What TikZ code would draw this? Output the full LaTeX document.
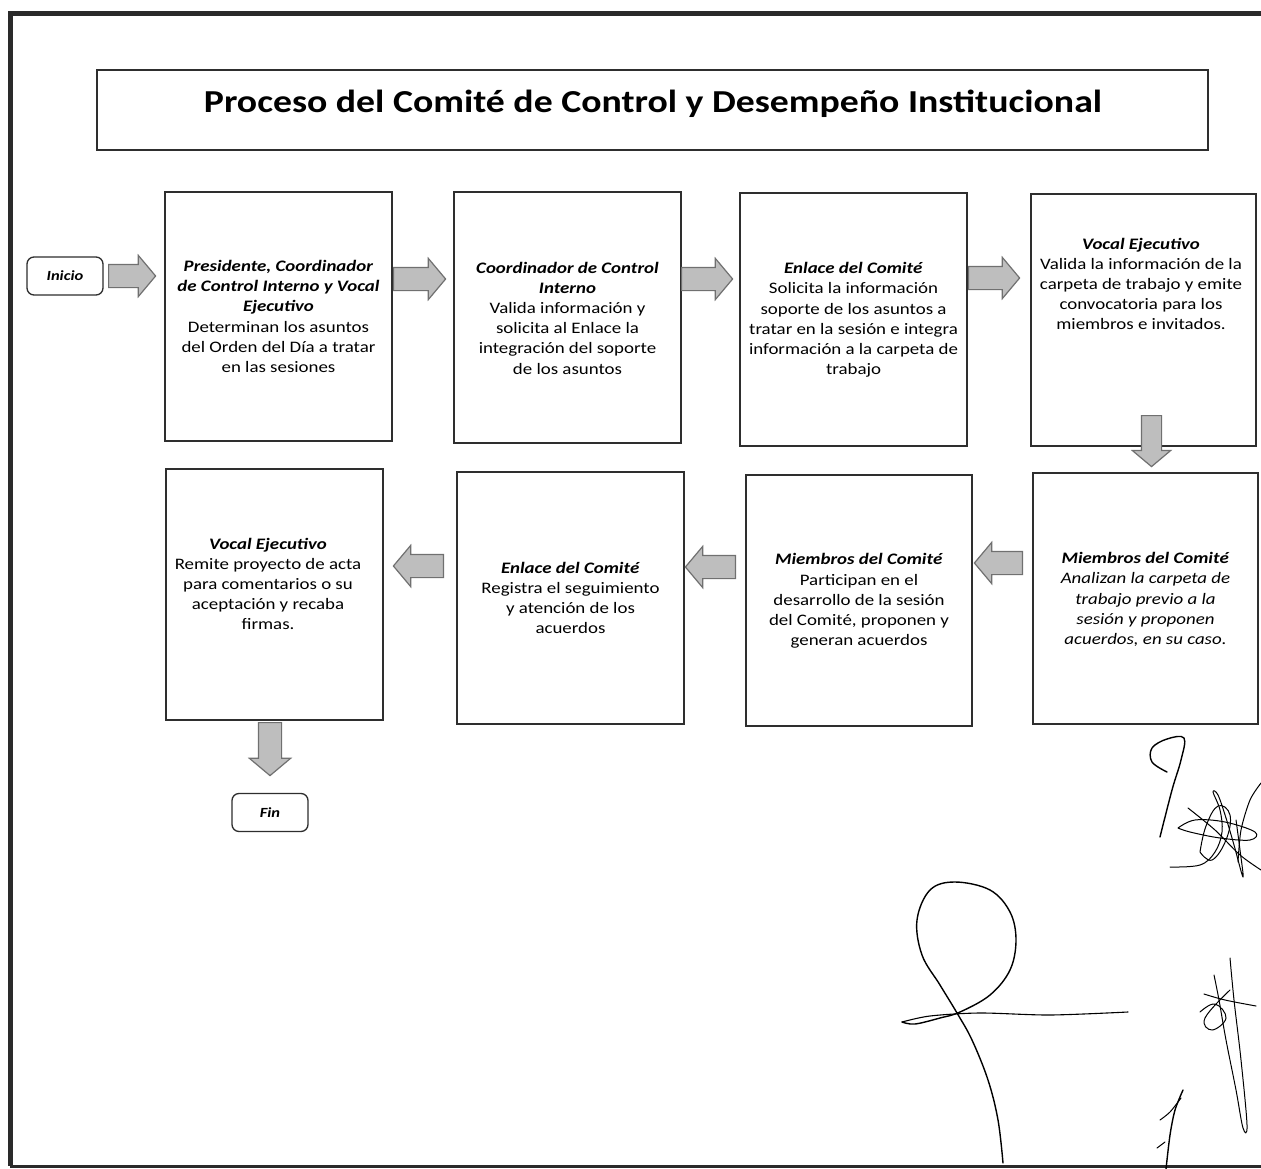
\documentclass[tikz,border=0pt]{standalone}
\usepackage{fontspec}
\setmainfont{Carlito}[FakeStretch=1.18]
\usetikzlibrary{shapes.arrows}
\definecolor{boxline}{HTML}{2E2E2E}
\definecolor{arrfill}{HTML}{BEBEBE}
\definecolor{arrline}{HTML}{707070}
\definecolor{frameline}{HTML}{2A2A2A}
\begin{document}
\begin{tikzpicture}[x=1pt,y=-1pt,
  stepbox/.style={draw=boxline, line width=1.8pt, fill=none, inner sep=0pt},
  txt/.style={align=center, inner sep=0pt, font=\fontsize{16}{20.2}\selectfont},
  term/.style={draw=boxline, line width=1.3pt, rounded corners=7pt, minimum width=76pt, minimum height=38pt, inner sep=0pt, font=\fontsize{14}{16}\selectfont\bfseries\itshape},
  barrow/.style={single arrow, anchor=tail, draw=arrline, fill=arrfill, line width=1.2pt, minimum height=#1, minimum width=0pt, single arrow head extend=9pt, single arrow tip angle=100, inner xsep=0pt, inner ysep=11pt},
  sig/.style={draw=black, line width=1.4pt, line cap=round, line join=round}]
\useasboundingbox (0,0) rectangle (1261,1169);
\fill[white] (0,0) rectangle (1261,1169);
% frame
\draw[frameline, line width=5pt] (1261,14) -- (10,14) -- (10,1166);
\draw[frameline, line width=3pt] (10,1166) -- (1261,1166);
% title
\node[stepbox, minimum width=1111pt, minimum height=80pt] (tbox) at (652.5,110) {};
\node[inner sep=0pt, font=\fontsize{32}{38}\selectfont\bfseries] (title) at (653,104) {Proceso del Comité de Control y Desempeño Institucional};
% boxes row 1
\node[stepbox, minimum width=227pt, minimum height=249pt] (b1) at (278.5,316.5) {};
\node[stepbox, minimum width=227pt, minimum height=251pt] (b2) at (567.5,317.5) {};
\node[stepbox, minimum width=227pt, minimum height=253pt] (b3) at (853.5,319.5) {};
\node[stepbox, minimum width=225pt, minimum height=252pt] (b4) at (1143.5,320) {};
% boxes row 2
\node[stepbox, minimum width=225pt, minimum height=251pt] (b5) at (1145.5,598.5) {};
\node[stepbox, minimum width=226pt, minimum height=251pt] (b6) at (859,600.5) {};
\node[stepbox, minimum width=227pt, minimum height=252pt] (b7) at (570.5,598) {};
\node[stepbox, minimum width=217pt, minimum height=251pt] (b8) at (274.5,594.5) {};
% terminals
\node[term] (inicio) at (65,276) {Inicio};
\node[term] (fin) at (270,812.5) {Fin};
% texts
\node[txt] (t1) at (278.5,316.5) {\textbf{\textit{Presidente, Coordinador}}\\\textbf{\textit{de Control Interno y Vocal}}\\\textbf{\textit{Ejecutivo}}\\Determinan los asuntos\\del Orden del Día a tratar\\en las sesiones};
\node[txt] (t2) at (567.5,318) {\textbf{\textit{Coordinador de Control}}\\\textbf{\textit{Interno}}\\Valida información y\\solicita al Enlace la\\integración del soporte\\de los asuntos};
\node[txt] (t3) at (853.5,320) {\textbf{\textit{Enlace del Comité}}\\Solicita la información\\soporte de los asuntos a\\tratar en la sesión e integra\\información a la carpeta de\\trabajo};
\node[txt] (t4) at (1141,284) {\textbf{\textit{Vocal Ejecutivo}}\\Valida la información de la\\carpeta de trabajo y emite\\convocatoria para los\\miembros e invitados.};
\node[txt] (t5) at (1145.5,599.5) {\textbf{\textit{Miembros del Comité}}\\\textit{Analizan la carpeta de}\\\textit{trabajo previo a la}\\\textit{sesión y proponen}\\\textit{acuerdos, en su caso.}};
\node[txt] (t6) at (859,601) {\textbf{\textit{Miembros del Comité}}\\Participan en el\\desarrollo de la sesión\\del Comité, proponen y\\generan acuerdos};
\node[txt] (t7) at (570.5,598) {\textbf{\textit{Enlace del Comité}}\\Registra el seguimiento\\y atención de los\\acuerdos};
\node[txt] (t8) at (268,584) {\textbf{\textit{Vocal Ejecutivo}}\\Remite proyecto de acta\\para comentarios o su\\aceptación y recaba\\firmas.};
% block arrows
\node[barrow=47pt] (a0) at (108,276) {};
\node[barrow=52pt] (a1) at (393,279) {};
\node[barrow=51pt] (a2) at (681,279) {};
\node[barrow=51pt] (a3) at (968,278) {};
\node[barrow=51pt, rotate=-90, inner ysep=9.5pt] (a4) at (1151.5,415) {};
\node[barrow=48pt, rotate=180] (a5) at (1023,563) {};
\node[barrow=50pt, rotate=180] (a6) at (736,567) {};
\node[barrow=50pt, rotate=180] (a7) at (444,566) {};
\node[barrow=53pt, rotate=-90] (a8) at (270,722) {};
% signatures
\draw[sig] plot[smooth, tension=0.6] coordinates {(1167,772) (1152,762) (1152,748) (1167,739) (1184,738) (1181,760) (1172,790) (1160,837)};
\draw[sig, line width=1pt] plot[smooth, tension=0.6] coordinates {(1178,828) (1195,820) (1225,822) (1255,832) (1250,840) (1220,838) (1190,832) (1178,828)};
\draw[sig, line width=1pt] plot[smooth] coordinates {(1188,808) (1215,830) (1240,855) (1261,870)};
\draw[sig, line width=1pt] plot[smooth, tension=0.6] coordinates {(1170,867) (1200,865) (1215,852) (1222,832) (1220,810) (1213,792) (1218,795) (1226,818) (1234,845) (1243,877) (1240,850) (1236,820)};
\draw[sig, line width=1pt] plot[smooth] coordinates {(1261,783) (1250,800) (1241,830) (1238,862)};
\draw[sig, line width=1pt] plot[smooth, tension=0.7] coordinates {(1200,852) (1212,860) (1226,840) (1230,815) (1218,806) (1206,826) (1200,852)};
\draw[sig] plot[smooth, tension=0.6] coordinates {(902,1022) (915,1024) (940,1018) (960,1012) (990,995) (1010,970) (1016,940) (1010,912) (990,890) (955,882) (930,890) (917,920) (922,955) (940,985) (957,1013) (972,1040) (988,1080) (998,1120) (1003,1163)};
\draw[sig, line width=1.1pt] plot[smooth] coordinates {(902,1022) (930,1016) (980,1013) (1050,1015) (1128,1012)};
\draw[sig, line width=1pt] plot[smooth, tension=0.6] coordinates {(1230,958) (1234,1000) (1241,1060) (1247,1125) (1243,1128) (1236,1090) (1226,1040) (1219,1000) (1214,975)};
\draw[sig, line width=1pt] plot[smooth, tension=0.6] coordinates {(1204,994) (1225,1000) (1256,1006)};
\draw[sig, line width=1pt] plot[smooth, tension=0.7] coordinates {(1200,1012) (1215,1004) (1226,1018) (1212,1030) (1205,1018) (1230,990)};
\draw[sig] plot[smooth, tension=0.5] coordinates {(1183,1090) (1175,1110) (1170,1135) (1166,1169)};
\draw[sig, line width=1pt] plot[smooth] coordinates {(1160,1120) (1170,1112) (1181,1098)};
\draw[sig, line width=1pt] (1157,1148) -- (1165,1142);
\end{tikzpicture}
\end{document}
